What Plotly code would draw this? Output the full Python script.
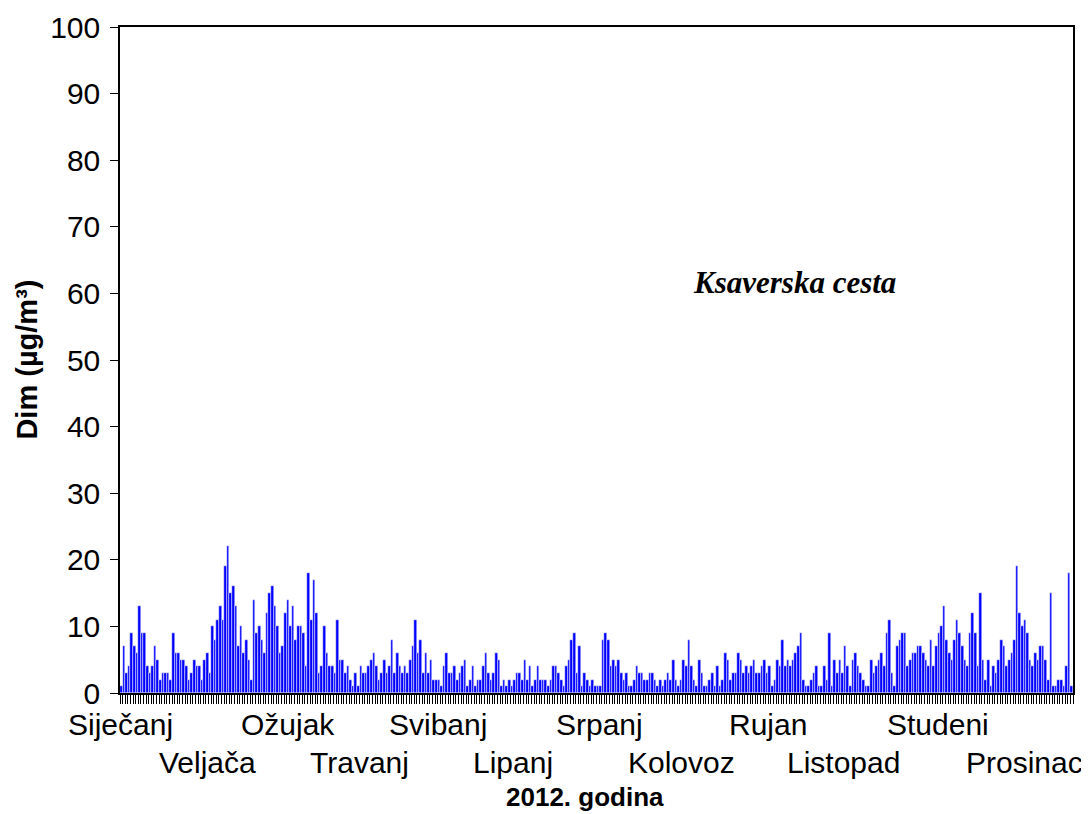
import plotly.graph_objects as go

# Daily smoke (Dim) concentrations, Ksaverska cesta, 2012 (366 days)
jan_feb = [1,7,3,4,9,7,6,13,9,9,4,3,4,7,5,2,3,3,3,2,9,6,6,5,5,4,2,3,5,4,
           4,2,5,6,3,10,8,11,13,11,19,22,15,16,13,7,10,6,8,5,2,14,9,10,8,6,12,15,16,13]
mar_apr = [10,6,7,12,14,10,13,8,10,10,9,4,18,11,17,12,3,4,10,6,4,4,3,11,5,5,3,4,2,1,3,
           1,4,3,3,4,5,6,4,2,3,5,3,4,8,3,6,4,3,4,3,5,7,11,6,8,3,6,3,5,2,2]
may_jun = [2,1,4,6,3,3,4,2,3,4,5,1,2,4,1,2,2,4,6,3,2,3,6,5,1,2,1,2,1,2,3,
           3,2,5,2,4,1,2,4,2,2,2,1,2,4,4,3,2,1,4,5,8,9,3,7,1,3,2,1,2,1,1]
jul_aug = [1,8,9,8,4,5,4,5,3,2,3,1,1,2,4,3,3,2,2,3,3,2,1,2,1,2,3,2,5,2,1,
           2,5,4,8,4,2,1,5,3,1,1,2,3,1,4,1,2,6,5,2,3,3,6,5,3,4,3,4,5,3,3]
sep_oct = [4,5,3,4,1,2,5,4,8,4,5,4,5,6,7,9,2,1,1,2,3,4,1,1,4,2,9,1,5,3,
           5,3,7,4,1,5,6,4,3,2,1,1,5,3,4,5,6,4,9,11,3,1,7,8,9,9,4,5,6,6,7]
nov_dec = [7,6,5,4,8,4,7,9,10,13,8,6,5,8,11,9,7,5,4,9,12,9,4,15,5,2,5,1,4,3,5,
           8,7,4,5,6,8,19,12,10,11,9,5,4,6,5,7,7,5,2,15,1,1,2,2,1,4,18,1]
values = jan_feb + mar_apr + may_jun + jul_aug + sep_oct + nov_dec
days = list(range(len(values)))

months = ["Siječanj", "Veljača", "Ožujak", "Travanj", "Svibanj", "Lipanj",
          "Srpanj", "Kolovoz", "Rujan", "Listopad", "Studeni", "Prosinac"]
month_label_pos = [-0.3, 33.1, 64.2, 91.5, 121.8, 150.6, 183.6, 215.1, 248.2, 277.3, 313.8, 346.9]

y_ticks = list(range(0, 101, 10))

fig = go.Figure()
fig.add_trace(go.Bar(
    x=days, y=values,
    marker=dict(color="#0000FF", line=dict(color="white", width=0.5)),
    hoverinfo="skip",
))

FONT = "Liberation Sans, Arial, sans-serif"
fig.update_layout(
    width=1081, height=806,
    margin=dict(l=112, r=16, t=19, b=121, autoexpand=False),
    paper_bgcolor="white", plot_bgcolor="white",
    bargap=0, showlegend=False,
    font=dict(family=FONT, color="black", size=30),
)
fig.update_xaxes(
    automargin=False,
    range=[-0.5, len(values) - 0.5],
    tickmode="linear", tick0=-0.5, dtick=1,
    ticks="outside", ticklen=9, tickwidth=1, tickcolor="black",
    showticklabels=False, showgrid=False, zeroline=False,
    showline=True, linecolor="black", linewidth=1.5, mirror=True,
)
fig.update_yaxes(
    automargin=False,
    range=[0, 100], tickvals=y_ticks,
    ticks="outside", ticklen=8, tickwidth=1, tickcolor="black",
    ticklabelstandoff=4,
    tickfont=dict(family=FONT, size=30, color="black"),
    showgrid=False, zeroline=False,
    showline=True, linecolor="black", linewidth=1.5, mirror=True,
)

for i, (m, p) in enumerate(zip(months, month_label_pos)):
    fig.add_annotation(x=p, xref="x", y=-0.047 if i % 2 == 0 else -0.104, yref="paper",
                       text=m, showarrow=False, xanchor="center", yanchor="middle",
                       font=dict(family=FONT, size=30, color="black"))

fig.add_annotation(x=0.488, xref="paper", y=-0.156, yref="paper",
                   text="<b>2012. godina</b>", showarrow=False,
                   xanchor="center", yanchor="middle",
                   font=dict(family=FONT, size=26, color="black"))
fig.add_annotation(x=-0.098, xref="paper", y=0.5, yref="paper",
                   text="<b>Dim (µg/m³)</b>", showarrow=False, textangle=-90,
                   xanchor="center", yanchor="middle",
                   font=dict(family=FONT, size=29, color="black"))
fig.add_annotation(x=258.5, xref="x", y=61.6, yref="y",
                   text="<b><i>Ksaverska cesta</i></b>", showarrow=False,
                   xanchor="center", yanchor="middle",
                   font=dict(family="Liberation Serif, Times New Roman, serif", size=31, color="black"))

fig.write_html("out.html")
